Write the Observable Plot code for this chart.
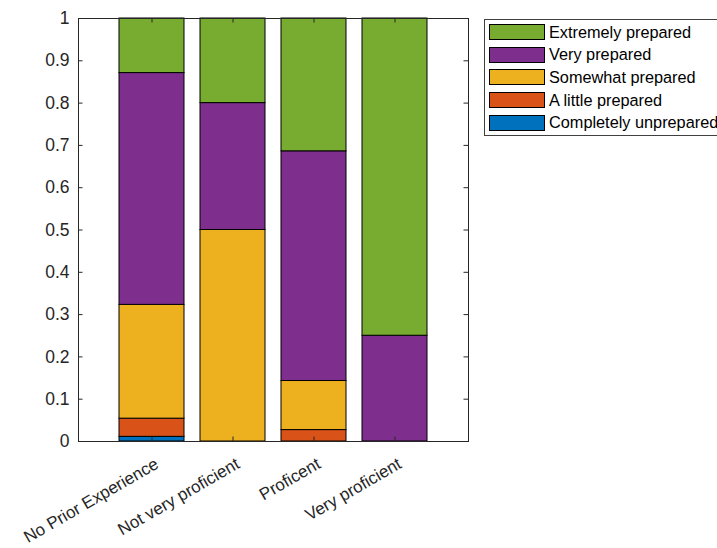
<!DOCTYPE html>
<html><head><meta charset="utf-8">
<script src="https://cdn.jsdelivr.net/npm/d3@7"></script>
<script src="https://cdn.jsdelivr.net/npm/@observablehq/plot@0.6"></script>
<style>
html,body{margin:0;padding:0;background:#fff;overflow:hidden}
#wrap{position:relative;width:717px;height:548px;overflow:hidden;font-family:"Liberation Sans",Arial,sans-serif}
#legend{position:absolute;left:484px;top:19px;width:260px;height:117px;border:1px solid #404040;background:#fff;box-sizing:border-box}
.item{position:absolute;left:4px;height:16px;display:flex;align-items:center;white-space:nowrap;font-size:16.3px;color:#000}
.sw{width:56px;height:16px;border:1px solid #000;box-sizing:border-box;margin-right:4px;flex:none}
</style>
</head><body>
<div id="wrap"><div id="chart"></div><div id="legend"></div></div>
<script>
const categories = ["No Prior Experience", "Not very proficient", "Proficent", "Very proficient"];
const levels = ["Completely unprepared", "A little prepared", "Somewhat prepared", "Very prepared", "Extremely prepared"];
const colors = ["#0072BD", "#D95319", "#EDB120", "#7E2F8E", "#77AC30"];
const completelyUnprepared = [0.011, 0, 0, 0];
const aLittlePrepared = [0.043, 0, 0.027, 0];
const somewhatPrepared = [0.269, 0.5, 0.116, 0];
const veryPrepared = [0.548, 0.3, 0.543, 0.25];
const extremelyPrepared = [0.129, 0.2, 0.314, 0.75];
const yTicks = [0, 0.1, 0.2, 0.3, 0.4, 0.5, 0.6, 0.7, 0.8, 0.9, 1];
const yTickLabels = ["0", "0.1", "0.2", "0.3", "0.4", "0.5", "0.6", "0.7", "0.8", "0.9", "1"];

const series = [completelyUnprepared, aLittlePrepared, somewhatPrepared, veryPrepared, extremelyPrepared];
const rows = [];
series.forEach((vals, s) => categories.forEach((c, i) => {
  if (vals[i] > 0) rows.push({category: c, level: levels[s], value: vals[i]});
}));

const W = 717, H = 548, ML = 78, MT = 18, MR = 249, MB = 107;
const fw = W - ML - MR, fh = H - MT - MB, tk = 4.5;
const axisColor = "#262626";

const chart = Plot.plot({
  width: W, height: H, marginLeft: ML, marginTop: MT, marginRight: MR, marginBottom: MB,
  style: {fontFamily: "'Liberation Sans', Arial, sans-serif", fontSize: "16px", background: "white", color: axisColor},
  x: {domain: categories, paddingInner: 0.2, paddingOuter: 0.48, axis: null},
  y: {domain: [0, 1], axis: null},
  color: {domain: levels, range: colors},
  marks: [
    Plot.barY(rows, {x: "category", y: "value", fill: "level", stroke: "black", strokeWidth: 1}),
    Plot.tickY(yTicks, {y: d => d, insetRight: fw - tk, stroke: axisColor}),
    Plot.tickY(yTicks, {y: d => d, insetLeft: fw - tk, stroke: axisColor}),
    Plot.tickX(categories, {x: d => d, insetBottom: fh - tk, stroke: axisColor}),
    Plot.tickX(categories, {x: d => d, insetTop: fh - tk, stroke: axisColor}),
    Plot.frame({stroke: axisColor, strokeWidth: 1}),
    Plot.text(yTicks, {y: d => d, text: (d, i) => yTickLabels[i], frameAnchor: "left", dx: -9, textAnchor: "end", fill: axisColor, fontSize: 17.5}),
    Plot.text(categories, {x: d => d, text: d => d, frameAnchor: "bottom", rotate: -30, textAnchor: "end", lineAnchor: "middle", dx: 5, dy: 21, fill: axisColor, fontSize: 17})
  ]
});
document.getElementById("chart").appendChild(chart);

const legend = document.getElementById("legend");
const order = levels.map((l, i) => i).reverse();
order.forEach((s, r) => {
  const item = document.createElement("div");
  item.className = "item";
  item.style.top = (4 + r * 22.7) + "px";
  const sw = document.createElement("div");
  sw.className = "sw";
  sw.style.background = colors[s];
  const label = document.createElement("span");
  label.textContent = levels[s];
  item.appendChild(sw);
  item.appendChild(label);
  legend.appendChild(item);
});
</script>
</body></html>
